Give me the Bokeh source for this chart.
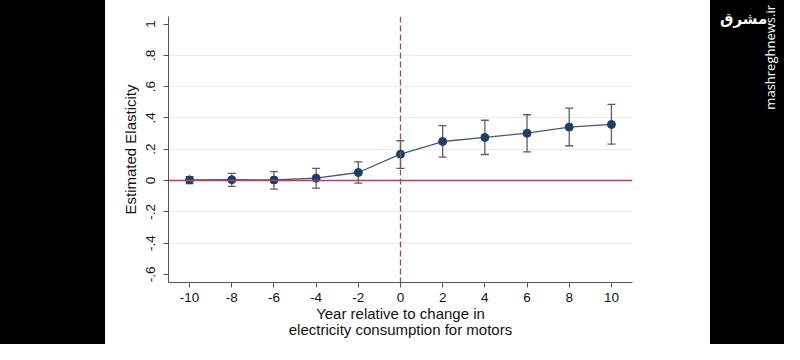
from bokeh.plotting import figure
from bokeh.models import ColumnDataSource, Whisker, Span, FixedTicker, Range1d, Div, TeeHead
from bokeh.layouts import row
from bokeh.embed import file_html
from bokeh.resources import INLINE

# Data
years = [-10, -8, -6, -4, -2, 0, 2, 4, 6, 8, 10]
estimate = [0.004, 0.005, 0.003, 0.015, 0.051, 0.168, 0.249, 0.275, 0.302, 0.341, 0.358]
ci_upper = [0.025, 0.045, 0.057, 0.077, 0.119, 0.254, 0.350, 0.385, 0.420, 0.462, 0.486]
ci_lower = [-0.020, -0.038, -0.055, -0.049, -0.017, 0.077, 0.149, 0.166, 0.183, 0.222, 0.232]

x_ticks = [-10, -8, -6, -4, -2, 0, 2, 4, 6, 8, 10]
x_tick_labels = ["-10", "-8", "-6", "-4", "-2", "0", "2", "4", "6", "8", "10"]
y_ticks = [-0.6, -0.4, -0.2, 0, 0.2, 0.4, 0.6, 0.8, 1]
y_tick_labels = ["-.6", "-.4", "-.2", "0", ".2", ".4", ".6", ".8", "1"]
y_grid = [-0.4, -0.2, 0.2, 0.4, 0.6, 0.8]

x_title = "Year relative to change in\nelectricity consumption for motors"
y_title = "Estimated Elasticity"

FONT = "Liberation Sans"
AXIS_COL = "#555555"

src = ColumnDataSource(dict(x=years, y=estimate, upper=ci_upper, lower=ci_lower))

p = figure(width=605, height=344, output_backend="svg", toolbar_location=None,
           x_range=Range1d(-11, 11), y_range=Range1d(-0.652, 1.048),
           min_border_left=63, min_border_right=78, min_border_top=16, min_border_bottom=62,
           margin=0)
p.outline_line_color = None
p.background_fill_color = "white"
p.border_fill_color = "white"

# axes
p.xaxis.ticker = FixedTicker(ticks=x_ticks)
p.xaxis.major_label_overrides = {v: s for v, s in zip(x_ticks, x_tick_labels)}
p.yaxis.ticker = FixedTicker(ticks=y_ticks)
p.yaxis.major_label_overrides = {v: s for v, s in zip(y_ticks, y_tick_labels)}
p.yaxis.major_label_orientation = "vertical"
for ax in (p.xaxis[0], p.yaxis[0]):
    ax.axis_line_color = AXIS_COL
    ax.axis_line_width = 1
    ax.major_tick_line_color = AXIS_COL
    ax.major_tick_out = 5
    ax.major_tick_in = 0
    ax.minor_tick_line_color = None
    ax.major_label_text_font = FONT
    ax.major_label_text_font_size = "13.5px"
    ax.major_label_text_color = "#111111"
    ax.axis_label_text_font = FONT
    ax.axis_label_text_font_size = "15px"
    ax.axis_label_text_font_style = "normal"
    ax.axis_label_text_color = "#111111"
p.xaxis.axis_label = x_title
p.yaxis.axis_label = y_title
p.xaxis.major_label_standoff = 5
p.yaxis.major_label_standoff = 8
p.xaxis.axis_label_standoff = 0
p.yaxis.axis_label_standoff = 5
p.xaxis.axis_label_text_align = "center"
p.xaxis.axis_label_text_line_height = 0.95

# grids
p.xgrid.grid_line_color = None
p.ygrid.ticker = FixedTicker(ticks=y_grid)
p.ygrid.grid_line_color = "#ececec"
p.ygrid.grid_line_width = 1

# reference lines
p.add_layout(Span(location=0, dimension="width", line_color="#c23b5e", line_width=1.5))
p.add_layout(Span(location=0, dimension="height", line_color="#a5485f", line_width=1.3,
                  line_dash="6 3"))

# series
p.line("x", "y", source=src, line_color="#435b72", line_width=1.3)
w = Whisker(base="x", upper="upper", lower="lower", source=src,
            line_color="#56626e", line_width=1.3,
            upper_head=TeeHead(size=8, line_color="#56626e", line_width=1.3),
            lower_head=TeeHead(size=8, line_color="#56626e", line_width=1.3))
p.add_layout(w)
p.scatter("x", "y", source=src, size=8, fill_color="#1b3f66", line_color="#1b3f66")

left = Div(text="", width=105, height=344, margin=0, styles={"background-color": "black"})
right = Div(text=('<div style="position:absolute;left:10px;top:8px;color:white;'
                  'font-family:\'Noto Sans\',\'DejaVu Sans\',sans-serif;font-size:15px;font-weight:bold;">مشرق</div>'
                  '<div style="position:absolute;left:53px;top:5px;color:white;'
                  'font-family:\'Open Sans\',sans-serif;font-size:13px;line-height:14px;'
                  'writing-mode:vertical-rl;transform:rotate(180deg);">mashreghnews.ir</div>'),
            width=74, height=344, margin=0,
            styles={"background-color": "black", "position": "relative", "overflow": "hidden"})

layout = row(left, p, right, spacing=0)
open("out.html", "w").write(file_html(layout, INLINE))
